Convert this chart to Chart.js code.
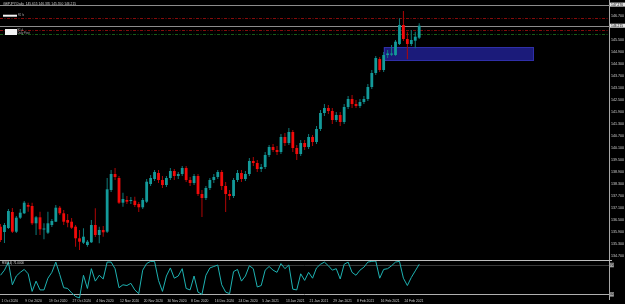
<!DOCTYPE html>
<html><head><meta charset="utf-8">
<script src="https://cdn.jsdelivr.net/npm/chart.js@4.4.1/dist/chart.umd.min.js"></script>
<style>
html,body{margin:0;padding:0;background:#000;width:625px;height:304px;overflow:hidden}
#main{position:absolute;left:0;top:0}
#ind{position:absolute;left:0;top:258px}
#sep{position:absolute;left:0;top:260px;width:612px;height:1px;background:#bdbdbd;z-index:2}
</style></head><body>
<canvas id="main" width="625" height="260"></canvas>
<canvas id="ind" width="625" height="46"></canvas>
<div id="sep"></div>
<script>
// ---------------- data ----------------
const symbol = 'GBPJPY,Daily';
const tickLabels = ['1 Oct 2020','9 Oct 2020','19 Oct 2020','27 Oct 2020','4 Nov 2020','12 Nov 2020','20 Nov 2020','30 Nov 2020','8 Dec 2020','16 Dec 2020','24 Dec 2020','5 Jan 2021','13 Jan 2021','21 Jan 2021','29 Jan 2021','8 Feb 2021','16 Feb 2021','24 Feb 2021'];
const tickStep = 6; // bars between date labels

const opens = [136.165,135.90,136.10,136.90,135.915,136.615,136.835,137.25,137.20,136.335,
136.635,136.025,135.865,136.25,136.415,137.115,136.835,136.50,136.415,136.165,
135.585,135.365,135.25,135.385,136.25,135.75,136.00,135.915,138.00,138.80,
138.60,137.365,137.50,137.45,137.465,137.30,137.135,137.415,138.30,138.55,
138.85,138.50,138.25,138.60,138.95,138.70,138.80,139.10,138.50,138.35,
138.70,137.80,137.60,138.10,138.50,138.65,138.90,138.20,137.80,137.70,
138.50,138.85,138.55,138.80,139.45,139.35,139.05,139.15,139.75,140.15,
140.00,139.90,140.65,140.35,140.90,140.10,139.80,140.35,140.15,140.65,
140.40,141.05,141.85,142.10,141.95,141.50,141.75,141.40,142.15,142.55,
142.30,142.20,142.40,142.55,143.15,143.85,144.55,144.00,144.75,144.765,
144.75,145.30,146.25,145.55,145.30,145.465,145.615];
const highs = [136.30,136.35,137.05,137.10,136.70,137.05,137.45,137.365,137.365,136.70,
136.915,136.335,136.915,136.55,137.25,137.20,137.00,136.80,136.60,136.25,
136.00,136.085,135.50,136.50,137.085,136.165,136.20,138.60,139.00,139.10,
138.70,137.865,137.70,137.65,137.665,137.40,137.60,138.55,138.75,139.00,
139.00,138.70,138.70,139.10,139.05,138.90,139.20,139.20,138.65,138.80,
138.80,138.00,138.20,138.60,138.80,139.00,139.00,138.40,138.00,138.60,
139.00,139.00,138.95,139.60,139.65,139.50,139.30,139.90,140.25,140.30,
140.20,140.80,140.85,141.10,141.00,140.25,140.50,140.50,140.80,140.75,
141.20,142.00,142.30,142.25,142.10,141.90,141.90,142.30,142.70,142.75,
142.50,142.55,142.70,143.30,144.00,144.70,144.65,144.90,145.00,145.25,
145.50,146.585,146.95,145.915,146.00,145.915,146.335];
const lows = [135.40,135.35,136.05,135.85,135.85,136.55,136.80,136.915,136.25,135.75,
135.75,135.535,135.80,136.15,136.40,136.75,136.25,136.135,136.05,135.165,
135.00,135.30,135.165,135.35,135.65,135.335,135.665,135.85,137.90,138.50,
137.30,137.165,137.30,137.30,137.15,136.90,137.05,137.35,138.20,138.45,
138.35,138.10,138.15,138.50,138.50,138.55,138.70,138.40,138.20,138.25,
137.70,136.65,137.50,138.00,138.35,138.55,138.00,136.90,137.50,137.60,
138.40,138.40,138.45,138.70,139.20,138.90,138.90,139.05,139.65,139.90,
139.75,139.80,140.20,140.25,139.90,139.50,139.70,140.00,140.05,140.20,
140.30,140.95,141.70,141.80,141.30,141.40,141.20,141.30,142.05,142.10,
142.10,142.10,142.30,142.45,143.05,143.75,143.90,143.90,144.60,144.70,
144.70,145.25,145.45,144.535,145.20,145.085,145.55];
const closes = [135.50,136.25,136.95,135.915,136.615,136.865,137.365,137.165,136.335,136.635,
136.035,136.05,136.335,136.45,137.115,136.835,136.415,136.365,136.115,135.585,
135.415,135.665,135.415,136.25,135.75,136.00,135.885,138.035,138.80,138.65,
137.365,137.55,137.415,137.50,137.25,137.135,137.50,138.415,138.60,138.90,
138.50,138.25,138.60,138.95,138.70,138.80,139.10,138.50,138.35,138.70,
137.80,137.60,138.10,138.50,138.65,138.90,138.20,137.80,137.70,138.50,
138.85,138.55,138.80,139.45,139.35,139.05,139.15,139.75,140.15,140.00,
139.90,140.65,140.35,140.90,140.10,139.80,140.35,140.15,140.65,140.40,
141.05,141.85,142.10,141.95,141.50,141.75,141.40,142.15,142.55,142.30,
142.20,142.40,142.55,143.15,143.85,144.60,144.00,144.75,144.825,144.825,
145.415,146.25,145.55,145.30,145.50,145.665,146.215];

const rsi = [56,63,74,43,55,60,64,58,34,48,
36,36,52,60,74,57,39,38,32,27,
25,56,38,65,48,56,51,74,74,65,
39,43,42,45,36,31,63,72,75,75,
49,34,55,66,52,55,65,38,36,55,
33,30,56,66,68,70,43,33,31,61,
64,48,55,69,65,40,42,63,68,63,
60,72,65,70,37,36,58,49,60,52,
66,71,74,69,63,65,51,71,74,60,
56,63,67,74,75,75.5,52,64,65,69,
74,75,52,42,53,62,71];
const rsiLevels = [70, 30];

const priceTicks = [146.7,145.5,144.9,144.3,143.7,143.1,142.5,141.9,141.3,140.7,140.1,139.5,138.9,138.3,137.7,137.1,136.5,135.9,135.3,134.7];
const pivotLevels = [146.585, 145.985, 145.80];
const markerLevel = 147.27;
const zoneBars = [97, 135];
const zonePrices = [145.15, 144.45];

// ---------------- drawing ----------------
const X_MIN = -0.13, X_MAX = 154.05;
const BULL = '#139a9a', BEAR = '#f20a0a', BULL_WICK = '#0f7a7a', BEAR_WICK = '#b00606';
const FONT = 'Liberation Sans';
const n = closes.length;
const idx = closes.map((_, i) => i);
const isBull = i => closes[i] >= opens[i];
const lastClose = closes[n - 1];

function priceBox(ctx, y, p, right) {
  const yy = y.getPixelForValue(p);
  ctx.fillStyle = '#e6e6e6';
  ctx.fillRect(right + 1, yy - 2, 15, 4);
  ctx.fillStyle = '#000';
  ctx.font = '3.4px ' + FONT;
  ctx.textBaseline = 'middle';
  ctx.textAlign = 'left';
  ctx.fillText(p.toFixed(3), right + 2, yy);
}

const mainOverlay = {
  id: 'mainOverlay',
  beforeDatasetsDraw(chart) {
    const { ctx, chartArea: a, scales: { x, y } } = chart;
    ctx.save();
    const x0 = x.getPixelForValue(zoneBars[0]), x1 = x.getPixelForValue(zoneBars[1]);
    const y0 = y.getPixelForValue(zonePrices[0]), y1 = y.getPixelForValue(zonePrices[1]);
    ctx.fillStyle = '#1b1b7a';
    ctx.fillRect(x0, y0, x1 - x0, y1 - y0);
    ctx.strokeStyle = '#2f2fa8';
    ctx.lineWidth = 1;
    ctx.strokeRect(Math.round(x0) + 0.5, Math.round(y0) + 0.5, Math.round(x1 - x0) - 1, Math.round(y1 - y0) - 1);
    const pivColors = ['#860b0b', '#860b0b', '#175c17'];
    pivotLevels.forEach((p, k) => {
      const yy = Math.round(y.getPixelForValue(p)) + 0.5;
      ctx.strokeStyle = pivColors[k];
      ctx.setLineDash([3, 1.5, 1, 1.5]);
      ctx.beginPath(); ctx.moveTo(a.left, yy); ctx.lineTo(a.right, yy); ctx.stroke();
    });
    ctx.setLineDash([]);
    ctx.strokeStyle = '#8c8c8c';
    [markerLevel, lastClose].forEach(p => {
      const yy = Math.round(y.getPixelForValue(p)) + 0.5;
      ctx.beginPath(); ctx.moveTo(a.left, yy); ctx.lineTo(a.right + 1, yy); ctx.stroke();
    });
    ctx.restore();
  },
  afterDraw(chart) {
    const { ctx, chartArea: a, scales: { y } } = chart;
    ctx.save();
    ctx.fillStyle = '#cfcfcf';
    ctx.font = '3.3px ' + FONT;
    ctx.textBaseline = 'middle';
    ctx.textAlign = 'left';
    const t = `${symbol}  ${opens[n-1].toFixed(3)} ${highs[n-1].toFixed(3)} ${lows[n-1].toFixed(3)} ${closes[n-1].toFixed(3)}`;
    ctx.fillText(t, 3, 3.6);
    const yA = y.getPixelForValue(pivotLevels[0]);
    const yB = y.getPixelForValue(pivotLevels[1]);
    ctx.fillStyle = '#f4f4f4';
    ctx.fillRect(3, yA - 3.6, 14, 2);
    ctx.fillRect(5, yB - 1.3, 12, 6);
    ctx.fillStyle = '#a8a8a8';
    ctx.font = '2.6px ' + FONT;
    ctx.fillText('R1 fx', 18, yA - 2.6);
    ctx.fillText('R1 d', 17.5, yB - 0.3);
    ctx.fillText('Daily Pivot', 17.5, yB + 2.7);
    priceBox(ctx, y, markerLevel, a.right);
    priceBox(ctx, y, lastClose, a.right);
    ctx.restore();
  }
};

new Chart(document.getElementById('main'), {
  type: 'bar',
  data: {
    datasets: [
      { data: idx.map(i => ({ x: i, y: [opens[i], closes[i]] })),
        backgroundColor: idx.map(i => isBull(i) ? BULL : BEAR),
        barThickness: 2.8, minBarLength: 1, grouped: false, order: 0, borderWidth: 0, inflateAmount: 0 },
      { data: idx.map(i => ({ x: i, y: [lows[i], highs[i]] })),
        backgroundColor: idx.map(i => isBull(i) ? BULL_WICK : BEAR_WICK),
        barThickness: 1, grouped: false, order: 1, borderWidth: 0, inflateAmount: 0 }
    ]
  },
  options: {
    responsive: false, animation: false, events: [],
    layout: { padding: 0 },
    plugins: { legend: { display: false }, tooltip: { enabled: false } },
    scales: {
      x: { type: 'linear', min: X_MIN, max: X_MAX, display: false, offset: false },
      y: {
        type: 'linear', position: 'right', min: 134.5, max: 147.5,
        afterBuildTicks: s => { s.ticks = priceTicks.map(v => ({ value: v })); },
        afterFit: s => { s.width = 16; s.paddingTop = 0; s.paddingBottom = 0; },
        grid: { display: false, drawTicks: false },
        border: { display: true, color: '#a8a8a8', width: 1 },
        ticks: { autoSkip: false, padding: 2, color: '#d2d2d2', font: { family: FONT, size: 3.6 },
                 callback: v => Number(v).toFixed(3) }
      }
    }
  },
  plugins: [mainOverlay]
});

const indOverlay = {
  id: 'indOverlay',
  afterDraw(chart) {
    const { ctx } = chart;
    ctx.save();
    ctx.fillStyle = '#d8d8d8';
    ctx.font = '3px ' + FONT;
    ctx.textBaseline = 'middle';
    ctx.textAlign = 'left';
    ctx.fillText(`RSI(14) ${rsi[n - 1].toFixed(4)}`, 2, 5);
    ctx.restore();
  }
};

new Chart(document.getElementById('ind'), {
  type: 'line',
  data: {
    datasets: [{ data: idx.map(i => ({ x: i, y: rsi[i] })), borderColor: '#1eb2b2', borderWidth: 1,
                 pointRadius: 0, tension: 0, fill: false }]
  },
  options: {
    responsive: false, animation: false, events: [],
    layout: { padding: { top: 2.7, left: 0, right: 0, bottom: 0 } },
    plugins: { legend: { display: false }, tooltip: { enabled: false } },
    scales: {
      x: {
        type: 'linear', min: X_MIN, max: X_MAX, offset: false,
        afterBuildTicks: s => { s.ticks = tickLabels.map((_, k) => ({ value: k * tickStep })); },
        afterFit: s => { s.height = 5; s.paddingLeft = 0; s.paddingRight = 0; },
        grid: { display: false, drawTicks: false }, border: { display: false },
        ticks: { autoSkip: false, maxRotation: 0, minRotation: 0, align: 'start', labelOffset: 1, padding: 0.5,
                 color: '#cfcfcf', font: { family: FONT, size: 3.4 }, callback: (v, k) => tickLabels[k] }
      },
      y: {
        type: 'linear', position: 'right', min: 23.6, max: 75.9,
        afterBuildTicks: s => { s.ticks = rsiLevels.map(v => ({ value: v })); },
        afterFit: s => { s.width = 16; s.paddingTop = 0; s.paddingBottom = 0; },
        grid: { drawTicks: false, lineWidth: 1,
                color: c => (c.tick && c.tick.value === rsiLevels[0]) ? '#3a3a3a' : '#b0b0b0' },
        border: { display: true, color: '#a8a8a8', width: 1 },
        ticks: { autoSkip: false, padding: 1, color: '#111', font: { family: FONT, size: 3 },
                 showLabelBackdrop: true, backdropColor: '#a0a0a0', backdropPadding: 0.5 }
      }
    }
  },
  plugins: [indOverlay]
});
</script>
</body></html>
